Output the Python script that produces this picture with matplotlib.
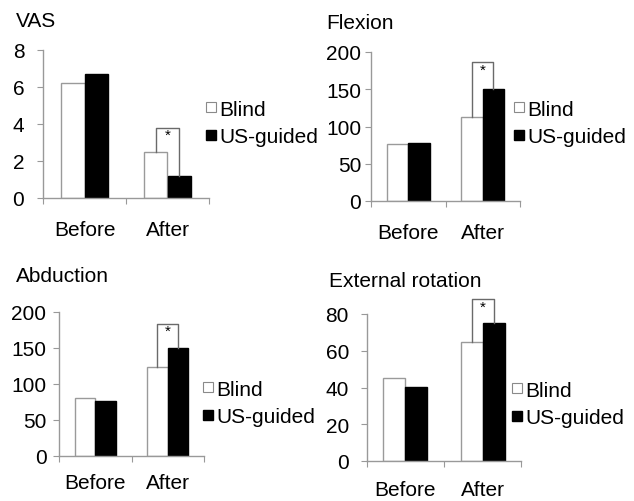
import matplotlib
matplotlib.use("Agg")
import matplotlib.pyplot as plt
from matplotlib.lines import Line2D
import numpy as np

plt.rcParams['font.family'] = ['Liberation Sans', 'DejaVu Sans']

categories = ["Before", "After"]
series_names = ["Blind", "US-guided"]

vas_blind = [6.2, 2.5]
vas_us = [6.7, 1.2]
flex_blind = [76, 113]
flex_us = [78, 151]
abd_blind = [80.5, 124]
abd_us = [76.5, 150]
ext_blind = [45.3, 64.8]
ext_us = [40.4, 75.0]

titles = ["VAS", "Flexion", "Abduction", "External rotation"]
yticks_list = [[0, 2, 4, 6, 8], [0, 50, 100, 150, 200], [0, 50, 100, 150, 200], [0, 20, 40, 60, 80]]
bracket_tops = [3.8, 186, 183, 88]

W, H = 634, 502
fig = plt.figure(figsize=(W / 100, H / 100), dpi=100)

def fx(px):
    return px / W

def fy(py):
    return 1 - py / H

# panel layout in pixels: (left, right, top, bottom)
panels = [
    dict(box=(43, 209, 51, 199), blind=vas_blind, us=vas_us, title_xy=(16, 12), leg=(206, 124), xpad=16, ypad=9.5),
    dict(box=(371, 520, 53, 202), blind=flex_blind, us=flex_us, title_xy=(326, 14), leg=(514, 124), xpad=15.5, ypad=3),
    dict(box=(59, 204, 313, 457), blind=abd_blind, us=abd_us, title_xy=(16, 267), leg=(203, 404), xpad=12, ypad=5),
    dict(box=(367, 521, 315, 462), blind=ext_blind, us=ext_us, title_xy=(329, 272), leg=(512, 405), xpad=13.5, ypad=9),
]

fs = 15
tfs = 15
spine_col = "#999999"
w = 1 / 3.5
x = np.arange(len(categories))

for i, p in enumerate(panels):
    l, r, t, b = p["box"]
    ax = fig.add_axes([fx(l), fy(b), fx(r - l), (b - t) / H])
    ax.bar(x - w / 2, p["blind"], w, color="white", edgecolor="#9a9a9a", linewidth=1.0)
    ax.bar(x + w / 2, p["us"], w, color="black", edgecolor="black", linewidth=1.0)
    yt = yticks_list[i]
    ax.set_ylim(0, yt[-1])
    ax.set_xlim(-0.5, len(categories) - 0.5)
    ax.set_yticks(yt)
    ax.set_yticklabels([str(v) for v in yt], fontsize=fs)
    ax.set_xticks(np.arange(-0.5, len(categories)), labels=[])
    ax.set_xticks(x, minor=True)
    ax.set_xticklabels(categories, minor=True, fontsize=fs)
    ax.tick_params(axis="x", which="minor", length=0, pad=p["xpad"])
    ax.tick_params(axis="x", which="major", length=4, color=spine_col, direction="out")
    ax.tick_params(axis="y", length=4, color=spine_col, direction="out", pad=p["ypad"])
    for s in ["top", "right"]:
        ax.spines[s].set_visible(False)
    for s in ["left", "bottom"]:
        ax.spines[s].set_color(spine_col)
        ax.spines[s].set_linewidth(1.0)
    # significance bracket
    xb, xu = x[1] - w / 2, x[1] + w / 2
    top = bracket_tops[i]
    ax.plot([xb, xb, xu, xu], [p["blind"][1], top, top, p["us"][1]],
            color="#6a6a6a", linewidth=1.0, clip_on=False)
    ax.text((xb + xu) / 2, top, "*", ha="center", va="top", fontsize=11, clip_on=False)
    # title
    tx, ty = p["title_xy"]
    fig.text(fx(tx), fy(ty), titles[i], ha="left", va="top", fontsize=tfs)
    # legend
    handles = [
        Line2D([], [], marker="s", linestyle="none", markersize=6.5,
               markerfacecolor="white", markeredgecolor="#8a8a8a", markeredgewidth=0.8),
        Line2D([], [], marker="s", linestyle="none", markersize=6.5,
               markerfacecolor="black", markeredgecolor="black"),
    ]
    lx, ly = p["leg"]
    ax.legend(handles, series_names, loc="center left", bbox_to_anchor=(fx(lx), fy(ly)),
              bbox_transform=fig.transFigure, frameon=False, fontsize=fs,
              handlelength=0.5, handletextpad=0.15, borderpad=0, borderaxespad=0,
              labelspacing=0.42)

fig.savefig("out.png", dpi=100)
